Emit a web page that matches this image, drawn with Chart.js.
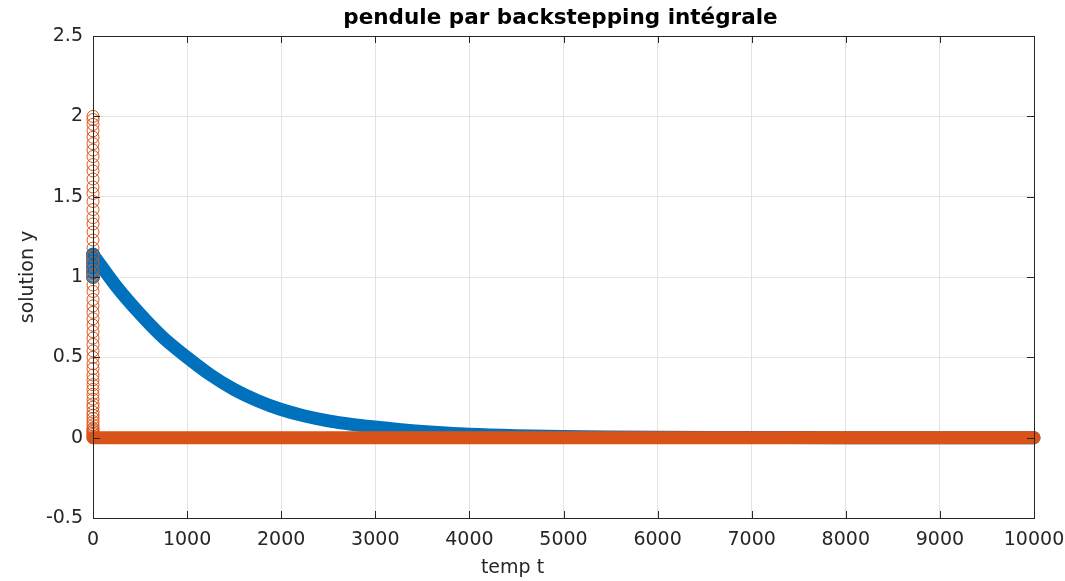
<!DOCTYPE html>
<html>
<head>
<meta charset="utf-8">
<script src="https://cdn.jsdelivr.net/npm/chart.js@4/dist/chart.umd.min.js"></script>
<style>
  html, body { margin: 0; padding: 0; background: #fff; }
  #wrap { width: 1065px; height: 581px; }
</style>
</head>
<body>
<div id="wrap"><canvas id="chart" width="1065" height="581"></canvas></div>
<script>
// values
const xTicks = [0, 1000, 2000, 3000, 4000, 5000, 6000, 7000, 8000, 9000, 10000];
const yTicks = [-0.5, 0, 0.5, 1, 1.5, 2, 2.5];
const titleText = 'pendule par backstepping intégrale';
const xLabel = 'temp t';

// blue series (first state): small stack at t=0, then decay
const blueStackT = [0, 0, 0, 0, 0, 0];
const blueStackY = [1.00, 1.03, 1.06, 1.09, 1.12, 1.14];
const blueT = [0, 250, 500, 750, 1000, 1250, 1500, 1750, 2000, 2250, 2500, 2750, 3000, 3250, 3500, 3750, 4000, 4500, 5000, 5500, 6000, 7000, 8000, 9000, 10000];
const blueY = [1.14, 0.94, 0.77, 0.62, 0.50, 0.39, 0.30, 0.23, 0.175, 0.135, 0.105, 0.083, 0.066, 0.051, 0.039, 0.029, 0.021, 0.012, 0.007, 0.004, 0.002, 0.001, 0, 0, 0];

// orange series (second state): drops from 2 to 0 at t=0, then stays at 0
const orangeStackY = [2.00, 1.98, 1.95, 1.91, 1.87, 1.83, 1.79, 1.75, 1.70, 1.66, 1.61, 1.56, 1.52, 1.47, 1.42, 1.37, 1.33, 1.28, 1.23, 1.18, 1.13, 1.09, 1.04, 1.00, 0.95, 0.91, 0.86, 0.82, 0.78, 0.74, 0.70, 0.66, 0.62, 0.58, 0.54, 0.50, 0.46, 0.43, 0.39, 0.36, 0.33, 0.30, 0.27, 0.24, 0.21, 0.19, 0.16, 0.14, 0.12, 0.10, 0.08, 0.06, 0.05, 0.04, 0.03, 0.02, 0.01, 0.0];
const orangeStackT = orangeStackY.map(() => 0);
const orangeT = [0, 1000, 2000, 3000, 4000, 5000, 6000, 7000, 8000, 9000, 10000];
const orangeY = [0, 0, 0, 0, 0, 0, 0, 0, 0, 0, 0];

const BLUE = '#0072BD';
const ORANGE = '#D95319';
const FONT = 'DejaVu Sans, Verdana, sans-serif';

function pts(xs, ys) {
    return xs.map((x, i) => ({ x: x, y: ys[i] }));
}

// box around the axes + small inward ticks, like the original figure
const boxPlugin = {
    id: 'box',
    afterDraw(chart) {
        const a = chart.chartArea;
        const ctx = chart.ctx;
        const sx = chart.scales.x, sy = chart.scales.y;
        ctx.save();
        ctx.strokeStyle = '#262626';
        ctx.lineWidth = 1;
        ctx.strokeRect(Math.round(a.left) + 0.5, Math.round(a.top) + 0.5, Math.round(a.right - a.left), Math.round(a.bottom - a.top));
        ctx.beginPath();
        xTicks.forEach(v => {
            const px = Math.round(sx.getPixelForValue(v)) + 0.5;
            ctx.moveTo(px, a.bottom); ctx.lineTo(px, a.bottom - 7);
            ctx.moveTo(px, a.top); ctx.lineTo(px, a.top + 7);
        });
        yTicks.forEach(v => {
            const py = Math.round(sy.getPixelForValue(v)) + 0.5;
            ctx.moveTo(a.left, py); ctx.lineTo(a.left + 7, py);
            ctx.moveTo(a.right, py); ctx.lineTo(a.right - 7, py);
        });
        ctx.stroke();

        // title and x label, placed like in the original figure
        const mid = (a.left + a.right) / 2;
        ctx.textAlign = 'center';
        ctx.textBaseline = 'middle';
        ctx.fillStyle = '#000';
        ctx.font = 'bold 21.5px ' + FONT;
        ctx.fillText(titleText, mid - 3, 18);
        ctx.fillStyle = '#262626';
        ctx.font = '19px ' + FONT;
        ctx.fillText(xLabel, mid - 51, a.bottom + 50);
        ctx.restore();
    }
};

const ctx = document.getElementById('chart').getContext('2d');
new Chart(ctx, {
    type: 'scatter',
    data: {
        datasets: [
            {
                label: 'y2 stack',
                data: pts(orangeStackT, orangeStackY),
                showLine: false,
                pointStyle: 'circle',
                pointRadius: 6,
                pointBorderWidth: 1,
                pointBorderColor: ORANGE,
                pointBackgroundColor: 'rgba(0,0,0,0)',
                clip: false,
                order: 0
            },
            {
                label: 'y2',
                data: pts(orangeT, orangeY),
                showLine: true,
                borderColor: ORANGE,
                borderWidth: 13,
                borderCapStyle: 'round',
                borderJoinStyle: 'round',
                pointRadius: 0,
                clip: false,
                order: 1
            },
            {
                label: 'y1 stack',
                data: pts(blueStackT, blueStackY),
                showLine: false,
                pointRadius: 6,
                pointBorderWidth: 2,
                pointBorderColor: BLUE,
                pointBackgroundColor: 'rgba(0,114,189,0.6)',
                clip: false,
                order: 2
            },
            {
                label: 'y1',
                data: pts(blueT, blueY),
                showLine: true,
                borderColor: BLUE,
                borderWidth: 13,
                borderCapStyle: 'round',
                borderJoinStyle: 'round',
                cubicInterpolationMode: 'monotone',
                pointRadius: 0,
                clip: false,
                order: 3
            }
        ]
    },
    options: {
        responsive: false,
        animation: false,
        layout: { padding: { top: 36, right: 31, bottom: 0, left: 0 } },
        plugins: {
            legend: { display: false },
            tooltip: { enabled: false },
            title: { display: false }
        },
        scales: {
            x: {
                type: 'linear',
                min: 0,
                max: 10000,
                afterBuildTicks: s => { s.ticks = xTicks.map(v => ({ value: v })); },
                afterFit: s => { s.height = 63; s.paddingLeft = 0; s.paddingRight = 0; },
                ticks: {
                    color: '#262626',
                    font: { family: FONT, size: 19 },
                    padding: 11,
                    maxRotation: 0,
                    callback: v => String(v)
                },
                grid: { color: '#e3e3e3', drawTicks: false },
                border: { color: '#262626' },
                title: { display: false }
            },
            y: {
                type: 'linear',
                min: -0.5,
                max: 2.5,
                afterBuildTicks: s => { s.ticks = yTicks.map(v => ({ value: v })); },
                afterFit: s => { s.width = 93; s.paddingTop = 0; s.paddingBottom = 0; },
                ticks: {
                    color: '#262626',
                    font: { family: FONT, size: 19 },
                    padding: 10,
                    callback: v => String(v)
                },
                grid: { color: '#e3e3e3', drawTicks: false },
                border: { color: '#262626' },
                title: {
                    display: true,
                    text: 'solution y',
                    color: '#262626',
                    font: { family: FONT, size: 19 },
                    padding: { top: 17, bottom: 4 }
                }
            }
        }
    },
    plugins: [boxPlugin]
});
</script>
</body>
</html>
